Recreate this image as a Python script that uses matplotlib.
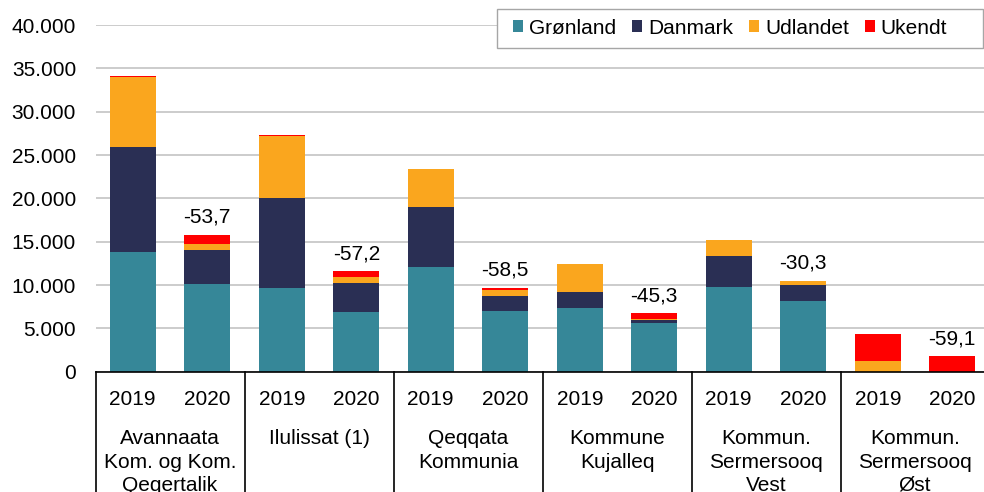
import numpy as np
import matplotlib
matplotlib.use("Agg")
import matplotlib.pyplot as plt
from matplotlib.patches import Patch, Rectangle
from matplotlib.ticker import FuncFormatter
import matplotlib.transforms as mtransforms

plt.rcParams["font.family"] = ["Liberation Sans", "DejaVu Sans"]
plt.rcParams["font.size"] = 15

# ── Data ───────────────────────────────────────────────────
years = ["2019", "2020"] * 6
groups = ["Avannaata\nKom. og Kom.\nQeqertalik", "Ilulissat (1)", "Qeqqata\nKommunia",
          "Kommune\nKujalleq", "Kommun.\nSermersooq\nVest", "Kommun.\nSermersooq\nØst"]
gronland = [13810, 10080, 9660, 6860, 12120, 7000, 7350, 5620, 9740, 8190, 0, 0]
danmark  = [12150, 3930, 10350, 3340, 6880, 1770, 1850, 380, 3610, 1810, 0, 0]
udlandet = [8010, 760, 7220, 730, 4430, 660, 3260, 120, 1810, 500, 1200, 0]
ukendt   = [190, 1040, 80, 690, 0, 270, 0, 650, 0, 0, 3180, 1780]
change   = ["-53,7", "-57,2", "-58,5", "-45,3", "-30,3", "-59,1"]

series = [("Grønland", gronland, "#368798"),
          ("Danmark", danmark, "#2a2f54"),
          ("Udlandet", udlandet, "#faa61e"),
          ("Ukendt", ukendt, "#ff0000")]

# ── Figure ─────────────────────────────────────────────────
W, H = 984, 492
fig = plt.figure(figsize=(W / 100, H / 100), dpi=100)
left, right, top, bottom = 95.5, 95.5 + 12 * 74.5, 25, 371.7
ax = fig.add_axes([left / W, 1 - bottom / H, (right - left) / W, (bottom - top) / H])

x = np.arange(len(years)) + 0.5
base = np.zeros(len(years))
for name, vals, col in series:
    ax.bar(x, vals, width=0.624, bottom=base, color=col, zorder=3, linewidth=0)
    base += np.array(vals)

# percentage change labels above 2020 bars
for i, lab in enumerate(change):
    j = 2 * i + 1
    ax.annotate(lab, (x[j], base[j]), xytext=(0, 8.5), textcoords="offset points",
                ha="center", va="baseline", fontsize=15)

ax.set_xlim(0, 12)
ax.set_ylim(0, 40000)
ax.set_yticks(np.arange(0, 40001, 5000))
ax.yaxis.set_major_formatter(FuncFormatter(lambda v, p: f"{int(v):,}".replace(",", ".")))
ax.tick_params(axis="y", length=0, pad=14, labelsize=15)
ax.set_xticks([])
ax.grid(axis="y", color="#bfbfbf", linewidth=1.1, zorder=0)
for s in ["left", "right", "top"]:
    ax.spines[s].set_visible(False)
ax.spines["bottom"].set_color("black")
ax.spines["bottom"].set_linewidth(1.2)
ax.spines["bottom"].set_zorder(4)

# multi-level category axis
trans = mtransforms.blended_transform_factory(ax.transData, fig.transFigure)
for g in range(0, 13, 2):
    ax.plot([g, g], [1 - bottom / H, -0.05], color="black", lw=1.2,
            transform=trans, clip_on=False)
for i, yr in enumerate(years):
    ax.text(x[i], 1 - 405 / H, yr, transform=trans, ha="center", va="baseline", fontsize=15)
for gi, name in enumerate(groups):
    for li, line in enumerate(name.split("\n")):
        ax.text(2 * gi + 1, 1 - (444.3 + 23.3 * li) / H, line, transform=trans,
                ha="center", va="baseline", fontsize=15)

# legend box (drawn separately to get Excel-like padding)
fig.patches.append(Rectangle((497.3 / W, 1 - 47.7 / H), (982.7 - 497.3) / W, 38.7 / H,
                             transform=fig.transFigure, facecolor="white",
                             edgecolor="#a6a6a6", linewidth=1.0, zorder=5))
handles = [Patch(facecolor=c, edgecolor="none", label=n) for n, _, c in series]
leg = fig.legend(handles=handles, ncol=4, loc="center left",
                 bbox_to_anchor=(513 / W, 1 - 28.0 / H), borderaxespad=0,
                 frameon=False, borderpad=0,
                 handlelength=0.48, handleheight=0.48, handletextpad=0.3,
                 columnspacing=0.75, fontsize=15)
leg.set_zorder(6)

fig.savefig("out.png", dpi=100)
